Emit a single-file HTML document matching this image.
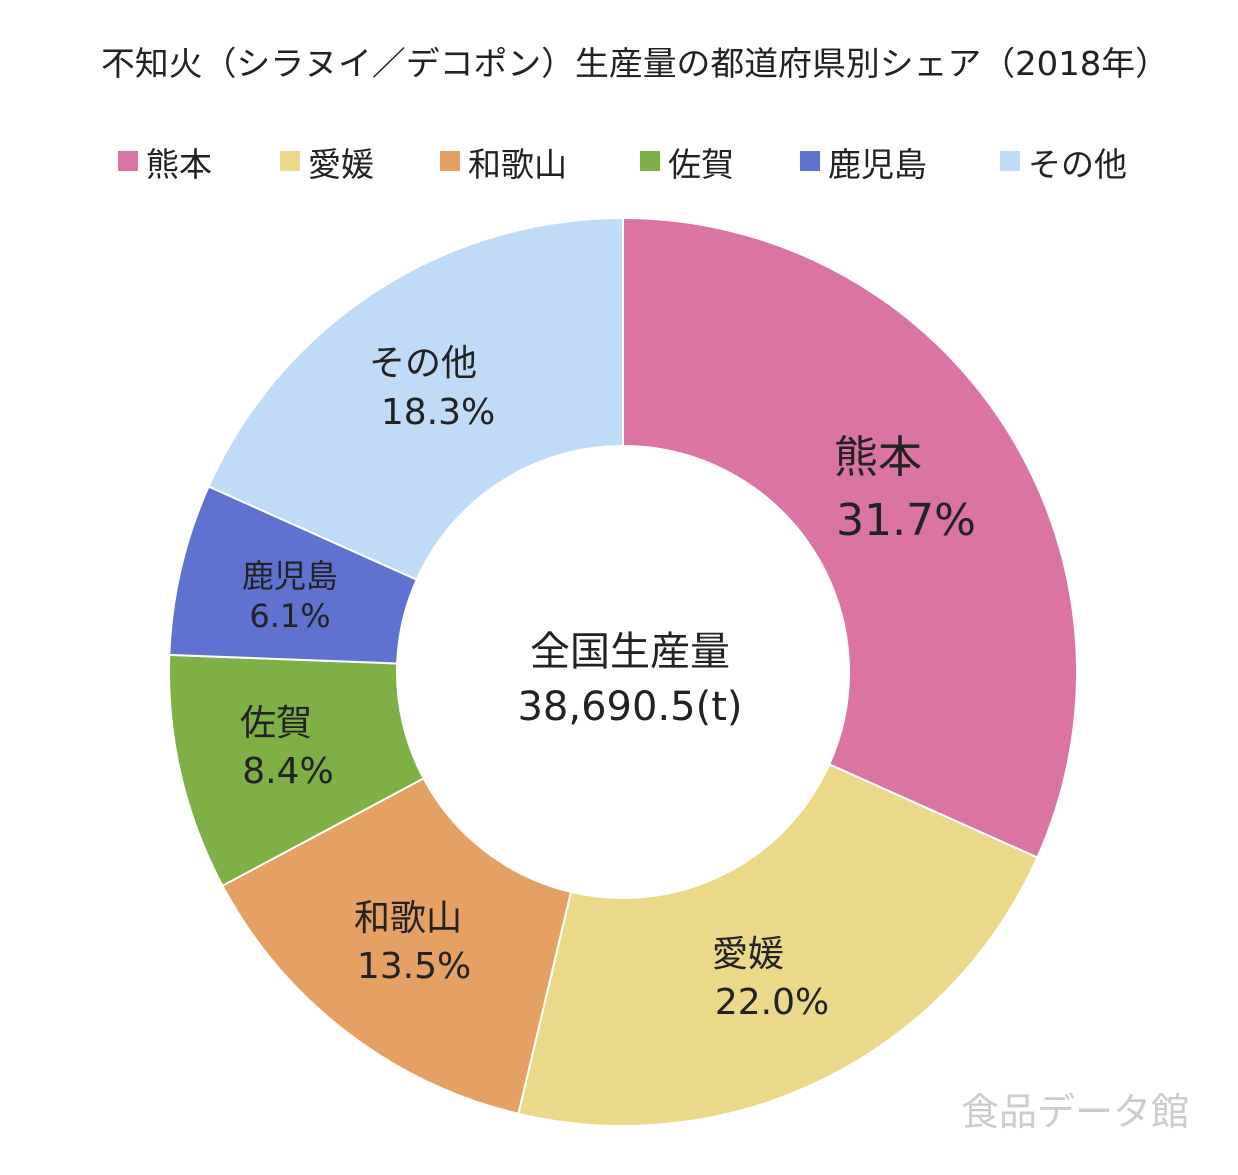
<!DOCTYPE html>
<html><head><meta charset="utf-8"><style>
body{margin:0;background:#fff;width:1238px;height:1170px;overflow:hidden}
text{font-family:"DejaVu Sans","Noto Sans CJK JP",sans-serif}
</style></head><body>
<svg id="s" width="1238" height="1170" viewBox="0 0 1238 1170">
<text x="635" y="75" font-size="33" text-anchor="middle" fill="#222" textLength="1068" lengthAdjust="spacingAndGlyphs">不知火（シラヌイ／デコポン）生産量の都道府県別シェア（2018年）</text>
<g font-size="33" fill="#222">
<rect x="118" y="151" width="20" height="20" fill="#DA74A3"/><text x="146" y="176">熊本</text>
<rect x="280" y="151" width="20" height="20" fill="#EBD888"/><text x="308" y="176">愛媛</text>
<rect x="440" y="151" width="20" height="20" fill="#E5A063"/><text x="468" y="176">和歌山</text>
<rect x="640" y="151" width="20" height="20" fill="#7EB045"/><text x="668" y="176">佐賀</text>
<rect x="800" y="151" width="20" height="20" fill="#5F72CF"/><text x="828" y="176">鹿児島</text>
<rect x="1000" y="151" width="20" height="20" fill="#C0DBF7"/><text x="1028" y="176">その他</text>
</g>
<g id="d"></g>
<g fill="#222" text-anchor="middle">
<text x="630" y="665" font-size="40">全国生産量</text>
<text x="630" y="720" font-size="40">38,690.5(t)</text>
<text x="878" y="472" font-size="44">熊本</text>
<text x="906" y="535" font-size="44">31.7%</text>
<text x="748" y="966" font-size="36">愛媛</text>
<text x="772" y="1014" font-size="36">22.0%</text>
<text x="408" y="930" font-size="36">和歌山</text>
<text x="414" y="978" font-size="36">13.5%</text>
<text x="276" y="735" font-size="36">佐賀</text>
<text x="288" y="783" font-size="36">8.4%</text>
<text x="290" y="587" font-size="32">鹿児島</text>
<text x="290" y="627" font-size="32">6.1%</text>
<text x="423" y="375" font-size="36">その他</text>
<text x="438" y="424" font-size="36">18.3%</text>
</g>
<text x="1075" y="1125" font-size="38" fill="#ccc" text-anchor="middle">食品データ館</text>
</svg>
<script>
var cx=623,cy=672,R=454,r=226;
var v=[31.7,22.0,13.5,8.4,6.1,18.3],c=["#DA74A3","#EBD888","#E5A063","#7EB045","#5F72CF","#C0DBF7"];
var a=0,h="";
function p(rad,ang){return [cx+rad*Math.sin(ang),cy-rad*Math.cos(ang)];}
for(var i=0;i<6;i++){var a0=a/100*2*Math.PI;a+=v[i];var a1=a/100*2*Math.PI;var L=(a1-a0)>Math.PI?1:0;
var A=p(R,a0),B=p(R,a1),C=p(r,a1),D=p(r,a0);
h+='<path fill="'+c[i]+'" stroke="#fff" stroke-width="2" d="M'+A+' A'+R+' '+R+' 0 '+L+' 1 '+B+' L'+C+' A'+r+' '+r+' 0 '+L+' 0 '+D+'Z"/>';}
document.getElementById("d").innerHTML=h;
</script>
</body></html>
